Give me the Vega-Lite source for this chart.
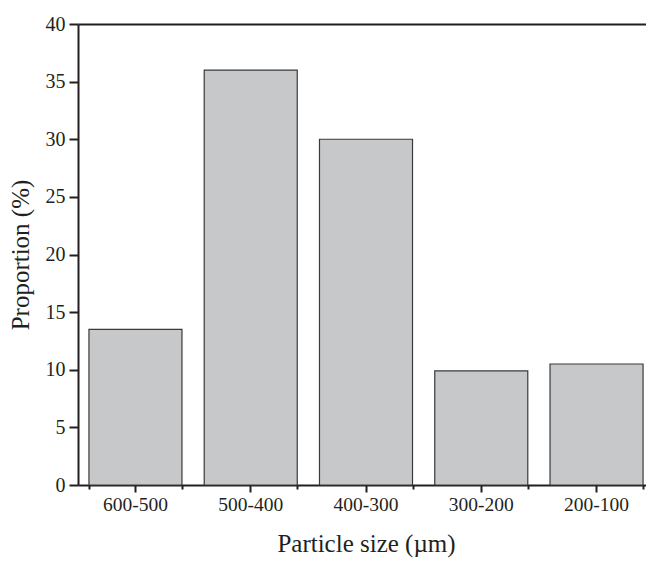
{
  "$schema": "https://vega.github.io/schema/vega-lite/v6.json",
  "width": 576,
  "height": 461,
  "autosize": {"type": "none"},
  "padding": {"left": 78, "top": 24, "right": 0, "bottom": 76},
  "config": {
    "view": {"stroke": null},
    "font": "Liberation Serif",
    "axis": {"grid": false, "domainColor": "#231f20", "tickColor": "#231f20", "labelColor": "#231f20", "titleColor": "#231f20", "titleFontWeight": "normal", "labelFont": "Liberation Serif", "titleFont": "Liberation Serif"}
  },
  "data": {
    "values": [
      {"size": "600-500", "p": 13.5},
      {"size": "500-400", "p": 36.0},
      {"size": "400-300", "p": 30.0},
      {"size": "300-200", "p": 9.9},
      {"size": "200-100", "p": 10.5}
    ]
  },
  "layer": [
    {
      "mark": {"type": "bar", "fill": "#c7c8ca", "stroke": "#3a3a3a", "strokeWidth": 1.2},
      "encoding": {
        "x": {
          "field": "size", "type": "nominal", "sort": null,
          "scale": {"paddingInner": 0.193, "paddingOuter": 0.095},
          "axis": {"orient": "bottom", "title": "Particle size (µm)", "labelAngle": 0, "domainWidth": 2, "tickWidth": 2, "tickSize": 7, "labelFontSize": 19.5, "labelPadding": 3, "titleFontSize": 25, "titlePadding": 18}
        },
        "y": {
          "field": "p", "type": "quantitative",
          "scale": {"domain": [0, 40], "nice": false},
          "axis": {
            "title": "Proportion (%)",
            "values": [0, 2.5, 5, 7.5, 10, 12.5, 15, 17.5, 20, 22.5, 25, 27.5, 30, 32.5, 35, 37.5, 40],
            "labelExpr": "datum.value % 5 === 0 ? datum.label : ''",
            "tickSize": {"condition": {"test": "datum.value % 5 === 0", "value": 9}, "value": 4},
            "tickWidth": 2, "domainWidth": 2, "labelFontSize": 20, "labelPadding": 4,
            "titleFontSize": 25, "titlePadding": 12
          }
        }
      }
    },
    {
      "mark": {"type": "bar", "opacity": 0},
      "encoding": {
        "x": {
          "field": "size", "type": "nominal", "sort": null,
          "axis": {"orient": "bottom", "title": null, "labels": false, "domain": false, "tickBand": "extent", "tickSize": 4, "tickWidth": 2}
        },
        "y": {"field": "p", "type": "quantitative"}
      }
    },
    {
      "mark": {"type": "bar", "opacity": 0},
      "encoding": {
        "x": {
          "field": "size", "type": "nominal", "sort": null,
          "axis": {"orient": "top", "title": null, "labels": false, "ticks": false, "domain": true, "domainWidth": 2}
        },
        "y": {"field": "p", "type": "quantitative"}
      }
    }
  ],
  "resolve": {"axis": {"x": "independent"}}
}
